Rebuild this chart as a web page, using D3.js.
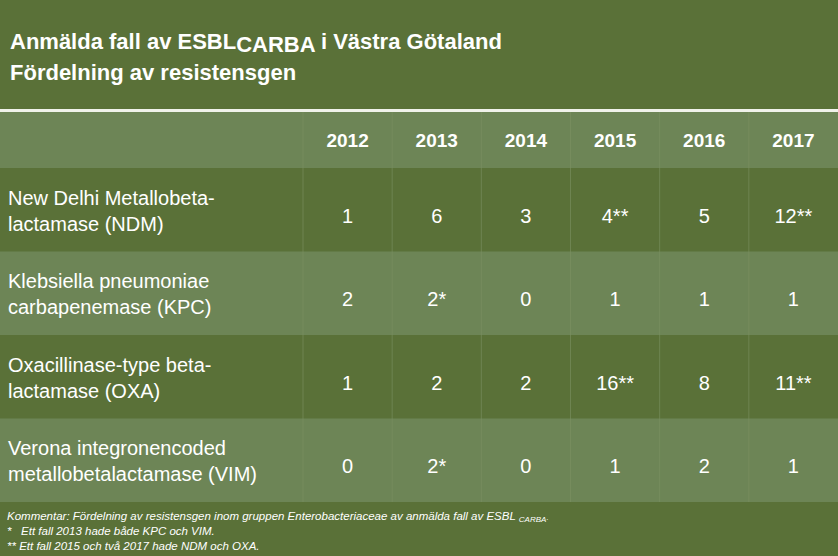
<!DOCTYPE html>
<html><head><meta charset="utf-8">
<script src="https://cdn.jsdelivr.net/npm/d3@7"></script>
<style>body{margin:0;background:#5a7138}svg{display:block}</style>
</head><body><svg id="c" width="838" height="556"></svg>
<script>
const years = ["2012","2013","2014","2015","2016","2017"];
const genes = [["New Delhi Metallobeta-","lactamase (NDM)"],["Klebsiella pneumoniae","carbapenemase (KPC)"],["Oxacillinase-type beta-","lactamase (OXA)"],["Verona integronencoded","metallobetalactamase (VIM)"]];
const values = [["1","6","3","4**","5","12**"],["2","2*","0","1","1","1"],["1","2","2","16**","8","11**"],["0","2*","0","1","2","1"]];
const notes = ["*   Ett fall 2013 hade både KPC och VIM.","** Ett fall 2015 och två 2017 hade NDM och OXA."];

const svg = d3.select("#c");
const font = "Liberation Sans, Arial, sans-serif";
const dark = "#5a7138", light = "#6d8556";
svg.append("rect").attr("width",838).attr("height",556).attr("fill",dark);

const t = svg.append("text").attr("x",10).attr("y",49).attr("fill","#fff").attr("font-family",font).attr("font-weight","bold").attr("font-size",22);
t.append("tspan").text("Anmälda fall av ESBL");
t.append("tspan").attr("dy",3).text("CARBA");
t.append("tspan").attr("dy",-3).text(" i Västra Götaland");
svg.append("text").attr("x",10).attr("y",80).attr("fill","#fff").attr("font-family",font).attr("font-weight","bold").attr("font-size",22).text("Fördelning av resistensgen");
svg.append("rect").attr("x",0).attr("y",109).attr("width",838).attr("height",3).attr("fill","#f0f2ea");

const x = d3.scaleBand().domain(years).range([303,838]);
const y = d3.scaleBand().domain(d3.range(genes.length)).range([168,502]);

svg.append("rect").attr("x",0).attr("y",112).attr("width",838).attr("height",56).attr("fill",light);
y.domain().forEach(i => svg.append("rect").attr("x",0).attr("y",y(i)).attr("width",838).attr("height",y.bandwidth()).attr("fill",i%2?light:dark));
years.forEach(yr => svg.append("line").attr("x1",x(yr)).attr("x2",x(yr)).attr("y1",112).attr("y2",502).attr("stroke","#7c9163").attr("stroke-width",1).attr("opacity",0.6));

svg.selectAll(".yr").data(years).join("text").attr("x",d=>x(d)+x.bandwidth()/2).attr("y",147).attr("text-anchor","middle")
  .attr("fill","#fff").attr("font-family",font).attr("font-weight","bold").attr("font-size",19).text(d=>d);

genes.forEach((g,i) => {
  const cy = y(i)+y.bandwidth()/2;
  g.forEach((line,k) => svg.append("text").attr("x",8).attr("y",cy-5+k*26).attr("fill","#fff").attr("font-family",font).attr("font-size",20).text(line));
  values[i].forEach((v,j) => svg.append("text").attr("x",x(years[j])+x.bandwidth()/2).attr("y",cy+13).attr("text-anchor","middle")
    .attr("fill","#fff").attr("font-family",font).attr("font-size",20).text(v));
});

const f = svg.append("text").attr("x",7).attr("y",520).attr("fill","#fff").attr("font-family",font).attr("font-style","italic").attr("font-size",11.5);
f.append("tspan").text("Kommentar: Fördelning av resistensgen inom gruppen Enterobacteriaceae av anmälda fall av ESBL ");
f.append("tspan").attr("font-size",8).attr("dy",2).text("CARBA");
f.append("tspan").attr("font-size",8).attr("dy",-2).text(".");
notes.forEach((n,i)=>svg.append("text").attr("x",7).attr("y",535+i*15).attr("fill","#fff").attr("font-family",font).attr("font-style","italic").attr("font-size",11.5).attr("xml:space","preserve").text(n));
</script></body></html>
